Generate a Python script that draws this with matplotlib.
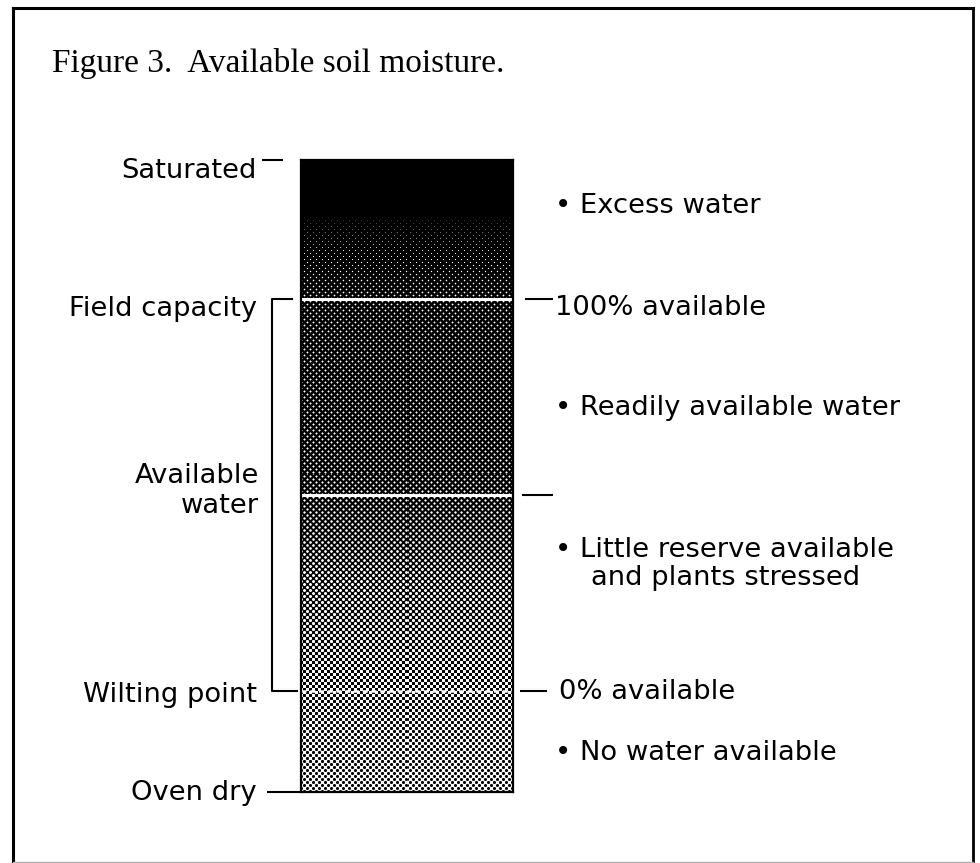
import numpy as np
import matplotlib
matplotlib.use("Agg")
import matplotlib.pyplot as plt
from matplotlib import transforms
from matplotlib.lines import Line2D

# ---------------- data ----------------
# moisture scale: 0 = oven dry, 100 = saturated
zone_bounds = [0, 16, 47, 78, 100]
left_levels = [100, 78, 16, 0]
left_labels = ["Saturated", "Field capacity", "Wilting point", "Oven dry"]
bracket_range = [16, 78]
bracket_label = ["Available", "water"]
right_levels = [78, 47, 16]
right_labels = ["100% available", "", "0% available"]
zone_notes = [["• No water available"],
              ["• Little reserve available", "and plants stressed"],
              ["• Readily available water"],
              ["• Excess water"]]
# shading of the column (fraction white) along the moisture scale
shade_levels = [0, 16, 30, 40, 47, 78, 84, 91, 93, 100]
shade_white = [0.57, 0.51, 0.43, 0.38, 0.35, 0.31, 0.25, 0.10, 0.0, 0.0]
title = "Figure 3.  Available soil moisture."

# ---------------- layout ----------------
FW, FH = 980, 863
fig = plt.figure(figsize=(FW / 100, FH / 100), dpi=100)


def fx(px):
    return px / FW


def fy(py):
    return 1 - py / FH


BAR_L, BAR_R, BAR_T, BAR_B = 301, 513, 160, 792
ax = fig.add_axes([fx(BAR_L), fy(BAR_B), (BAR_R - BAR_L) / FW, (BAR_B - BAR_T) / FH])
lo, hi = zone_bounds[0], zone_bounds[-1]
ax.set_xlim(0, 1)
ax.set_ylim(lo, hi)

# halftone shading image (45-degree dot screen aligned to the pixel grid)
h, w = BAR_B - BAR_T, BAR_R - BAR_L
rows = np.arange(h)
cols = np.arange(w)
lv = lo + (rows + 0.5) / h * (hi - lo)
white = np.interp(lv, shade_levels, shade_white)
X, Y = np.meshgrid(cols, rows)
P = 6.0
t = 0.5 + 0.25 * (np.cos(2 * np.pi * (X + Y) / P) + np.cos(2 * np.pi * (X - Y) / P))
thr = (1 - white[:, None]) * 1.5 - 0.25
img = np.clip((t - thr) / 0.25 + 0.5, 0, 1)
ax.imshow(img, cmap="gray", vmin=0, vmax=1, extent=(0, 1, lo, hi),
          origin="lower", aspect="auto", interpolation="nearest")

for lvl in zone_bounds[2:4]:
    ax.axhline(lvl, color="white", lw=2.2)
ax.axhline(zone_bounds[1], color="white", lw=1.8, ls=(0, (2, 1.5)))

for s in ax.spines.values():
    s.set_color("black")
    s.set_linewidth(1.6)
ax.set_xticks([])
ax.set_yticks([])

trans = transforms.blended_transform_factory(fig.transFigure, ax.transData)
LBL = dict(family="DejaVu Sans", fontsize=19.7, color="black")


def seg(x0, x1, lvl):
    ax.plot([fx(x0), fx(x1)], [lvl, lvl], transform=trans, clip_on=False,
            color="black", lw=1.5, solid_capstyle="butt")


def label(s, xpx, lvl, down_px, ha="left"):
    ax.annotate(s, xy=(fx(xpx), lvl), xycoords=trans,
                xytext=(0, -down_px * 0.72), textcoords="offset points",
                ha=ha, va="baseline", annotation_clip=False, **LBL)


# left side
seg(262, 283, left_levels[0])
seg(267, 300, left_levels[3])
ax.plot([fx(292), fx(272), fx(272), fx(297)],
        [bracket_range[1], bracket_range[1], bracket_range[0], bracket_range[0]],
        transform=trans, clip_on=False, color="black", lw=1.5)
left_offsets = [18, 17, 11, 8]
for s, lvl, off in zip(left_labels, left_levels, left_offsets):
    label(s, 257, lvl, off, ha="right")
mid = (bracket_range[0] + bracket_range[1]) / 2
label(bracket_label[0], 259, mid, -12, ha="right")
label(bracket_label[1], 259, mid, 18, ha="right")

# right side
seg(525, 553, right_levels[0])
seg(522, 553, right_levels[1])
seg(520, 547, right_levels[2])
label(right_labels[0], 555, right_levels[0], 16)
label(right_labels[2], 559, right_levels[2], 8)

note_offsets = [[19], [-36, -8], [18], [-16.5]]
note_x = [[555], [555, 591], [555], [555]]
for i, lines in enumerate(zone_notes):
    zmid = (zone_bounds[i] + zone_bounds[i + 1]) / 2
    for s, off, xp in zip(lines, note_offsets[i], note_x[i]):
        label(s, xp, zmid, off)

# title and frame
fig.text(fx(52), fy(72), title, family="Liberation Serif", fontsize=24,
         va="baseline", ha="left", color="black")
frame = [((13, 973), (8, 8), "black", 2.2),
         ((13, 13), (8, 862), "black", 2.2),
         ((973, 973), (8, 862), "black", 2.0),
         ((13, 973), (862, 862), "#b0b0b0", 1.0)]
for xs, ys, c, lw in frame:
    fig.add_artist(Line2D([fx(xs[0]), fx(xs[1])], [fy(ys[0]), fy(ys[1])],
                          transform=fig.transFigure, color=c, lw=lw))

fig.savefig("out.png", dpi=100, facecolor="white")
